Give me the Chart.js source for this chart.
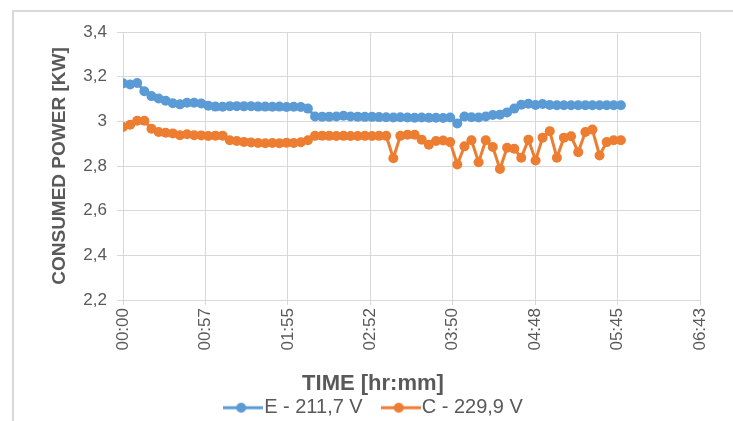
<!DOCTYPE html>
<html>
<head>
<meta charset="utf-8">
<script src="https://cdn.jsdelivr.net/npm/chart.js@4.4.1/dist/chart.umd.min.js"></script>
<style>
  html, body { margin: 0; padding: 0; background: #fff; overflow: hidden; }
  #wrap { position: relative; width: 733px; height: 421px; }
  #frame { position: absolute; left: 12px; top: 10px; width: 760px; height: 460px; border: 2px solid #d9d9d9; box-sizing: border-box; }
  canvas { position: absolute; left: 0; top: 0; }
</style>
</head>
<body>
<div id="wrap">
  <div id="frame"></div>
  <canvas id="chart" width="733" height="421"></canvas>
</div>
<script>
// Sample times (minutes from start)
const minutes = [
  0, 5.0, 9.9, 14.9, 19.9, 24.9, 29.8, 34.8, 39.8, 44.7,
  49.7, 54.7, 59.6, 64.6, 69.6, 74.6, 79.5, 84.5, 89.5, 94.4,
  99.4, 104.4, 109.3, 114.3, 119.3, 124.3, 129.2, 134.2, 139.2, 144.1,
  149.1, 154.1, 159.0, 164.0, 169.0, 174.0, 178.9, 183.9, 188.9, 193.8,
  198.8, 203.8, 208.7, 213.7, 218.7, 223.7, 228.6, 233.6, 238.6, 243.5,
  248.5, 253.5, 258.4, 263.4, 268.4, 273.4, 278.3, 283.3, 288.3, 293.2,
  298.2, 303.2, 308.1, 313.1, 318.1, 323.1, 328.0, 333.0, 338.0, 342.9,
  347.9
];

// E - 211,7 V
const powerE = [
  3.170, 3.165, 3.172, 3.135, 3.113, 3.102, 3.092, 3.081, 3.076, 3.083,
  3.083, 3.080, 3.070, 3.066, 3.065, 3.068, 3.068, 3.067, 3.068, 3.066,
  3.066, 3.065, 3.066, 3.064, 3.065, 3.064, 3.057, 3.022, 3.021, 3.021,
  3.022, 3.025, 3.022, 3.021, 3.020, 3.020, 3.019, 3.018, 3.017, 3.018,
  3.017, 3.016, 3.017, 3.016, 3.016, 3.015, 3.017, 2.990, 3.022, 3.018,
  3.017, 3.022, 3.028, 3.030, 3.040, 3.057, 3.074, 3.079, 3.073, 3.078,
  3.073, 3.072, 3.072, 3.072, 3.072, 3.072, 3.072, 3.072, 3.072, 3.072,
  3.072
];

// C - 229,9 V
const powerC = [
  2.975, 2.985, 3.003, 3.003, 2.967, 2.952, 2.949, 2.946, 2.938, 2.942,
  2.938, 2.937, 2.934, 2.936, 2.936, 2.915, 2.912, 2.908, 2.905, 2.903,
  2.902, 2.903, 2.902, 2.904, 2.903, 2.906, 2.915, 2.935, 2.936, 2.935,
  2.934, 2.935, 2.934, 2.934, 2.935, 2.934, 2.935, 2.935, 2.835, 2.935,
  2.940, 2.940, 2.918, 2.895, 2.912, 2.914, 2.907, 2.807, 2.888, 2.915,
  2.817, 2.915, 2.885, 2.787, 2.882, 2.877, 2.837, 2.918, 2.825, 2.927,
  2.956, 2.837, 2.927, 2.933, 2.862, 2.952, 2.963, 2.847, 2.907, 2.915,
  2.915
];

const xTickValues = [0, 57.6, 115.2, 172.8, 230.4, 288, 345.6, 403.2];
const xTickLabels = ['00:00', '00:57', '01:55', '02:52', '03:50', '04:48', '05:45', '06:43'];
const yTickValues = [2.2, 2.4, 2.6, 2.8, 3, 3.2, 3.4];
const yTickLabels = ['2,2', '2,4', '2,6', '2,8', '3', '3,2', '3,4'];

const BLUE = '#5b9bd5';
const ORANGE = '#ed7d31';
const TEXT = '#595959';
const GRID = '#d9d9d9';
const FONT = '"Liberation Sans", Arial, sans-serif';

function toPoints(values) {
  return values.map((v, i) => ({ x: minutes[i], y: v }));
}

// Line-with-marker symbol for the legend
function legendMarker(color) {
  const c = document.createElement('canvas');
  c.width = 40;
  c.height = 12;
  const g = c.getContext('2d');
  g.strokeStyle = color;
  g.lineWidth = 3;
  g.beginPath();
  g.moveTo(0, 6);
  g.lineTo(40, 6);
  g.stroke();
  g.fillStyle = color;
  g.beginPath();
  g.arc(18, 6, 5, 0, Math.PI * 2);
  g.fill();
  return c;
}

const markers = [legendMarker(BLUE), legendMarker(ORANGE)];

// Excel centres the x title and legend on the whole frame, not the plot area
const frameLayout = {
  id: 'frameLayout',
  afterLayout(chart) {
    chart.legend.left = 55;
  },
  afterDraw(chart) {
    const ctx = chart.ctx;
    ctx.save();
    ctx.font = 'bold 22px ' + FONT;
    ctx.fillStyle = TEXT;
    ctx.textAlign = 'center';
    ctx.textBaseline = 'middle';
    ctx.fillText('TIME [hr:mm]', 373, 384);
    ctx.restore();
  }
};

new Chart(document.getElementById('chart'), {
  type: 'line',
  data: {
    datasets: [
      {
        label: 'E - 211,7 V',
        data: toPoints(powerE),
        borderColor: BLUE,
        backgroundColor: BLUE,
        borderWidth: 3,
        pointRadius: 5,
        pointBorderWidth: 0,
        pointBackgroundColor: BLUE,
        tension: 0
      },
      {
        label: 'C - 229,9 V',
        data: toPoints(powerC),
        borderColor: ORANGE,
        backgroundColor: ORANGE,
        borderWidth: 3,
        pointRadius: 5,
        pointBorderWidth: 0,
        pointBackgroundColor: ORANGE,
        tension: 0
      }
    ]
  },
  options: {
    responsive: false,
    animation: false,
    layout: { padding: { left: 0, right: 33, top: 32, bottom: -6.7 } },
    plugins: {
      legend: {
        position: 'bottom',
        labels: {
          font: { family: FONT, size: 20 },
          color: TEXT,
          usePointStyle: true,
          pointStyleWidth: 22,
          padding: 27,
          generateLabels: chart => Chart.defaults.plugins.legend.labels.generateLabels(chart)
            .map((item, i) => ({ ...item, pointStyle: markers[i] }))
        }
      },
      tooltip: { enabled: false }
    },
    scales: {
      x: {
        type: 'linear',
        min: 0,
        max: 403.2,
        afterBuildTicks: scale => { scale.ticks = xTickValues.map(v => ({ value: v })); },
        afterFit: scale => { scale.height = 70.7; },
        ticks: {
          autoSkip: false,
          minRotation: 90,
          maxRotation: 90,
          padding: 3,
          color: TEXT,
          font: { family: FONT, size: 17 },
          callback: (value, index) => xTickLabels[index]
        },
        grid: { color: GRID, lineWidth: 1, tickLength: 5 },
        border: { color: GRID }
      },
      y: {
        min: 2.2,
        max: 3.4,
        afterBuildTicks: scale => { scale.ticks = yTickValues.map(v => ({ value: v })); },
        afterFit: scale => { scale.width = 123; },
        ticks: {
          padding: 10,
          color: TEXT,
          font: { family: FONT, size: 17 },
          callback: (value, index) => yTickLabels[index]
        },
        grid: { color: GRID, lineWidth: 1, tickLength: 6 },
        border: { color: GRID },
        title: {
          display: true,
          text: 'CONSUMED POWER [KW]',
          color: TEXT,
          font: { family: FONT, size: 19, weight: 'bold' },
          padding: { top: 48.5, bottom: 0 }
        }
      }
    }
  },
  plugins: [frameLayout]
});
</script>
</body>
</html>
